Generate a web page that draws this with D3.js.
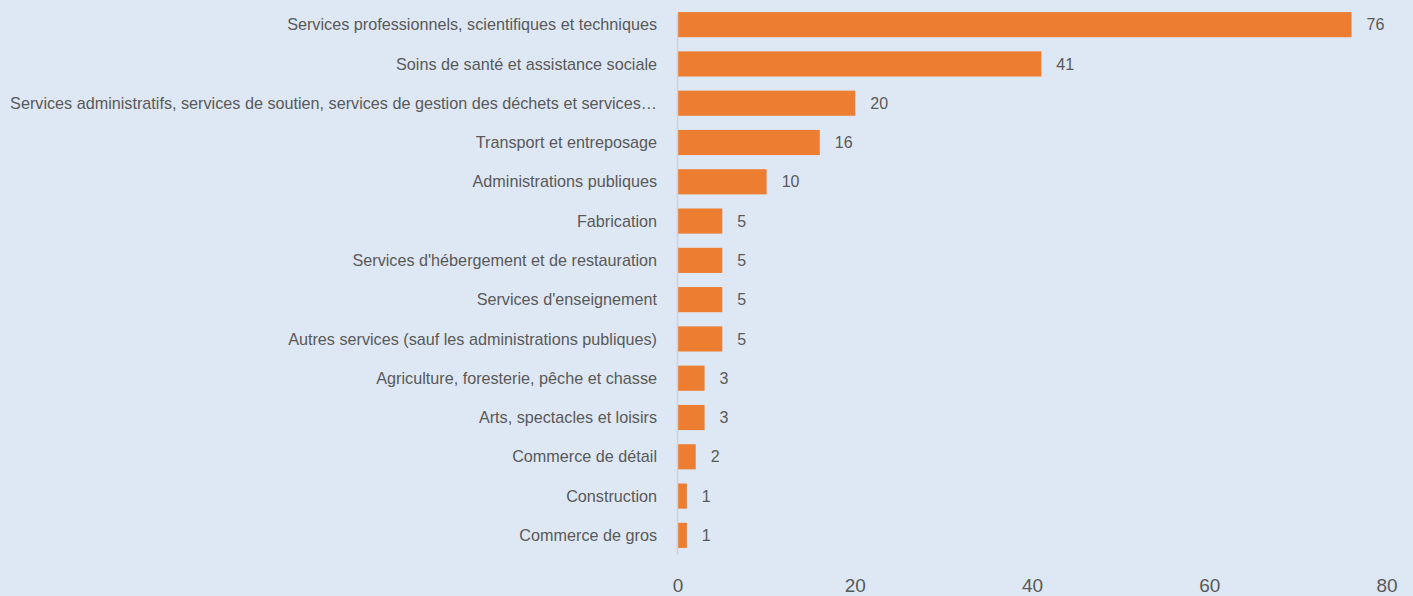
<!DOCTYPE html>
<html>
<head>
<meta charset="utf-8">
<script src="https://cdn.jsdelivr.net/npm/d3@7"></script>
<style>
  body { margin: 0; background: #dee8f4; }
  svg text { font-family: "Liberation Sans", Arial, sans-serif; fill: #595959; }
</style>
</head>
<body>
<script>
// categories and counts, top to bottom
var categories = [
    "Services professionnels, scientifiques et techniques",
    "Soins de santé et assistance sociale",
    "Services administratifs, services de soutien, services de gestion des déchets et services…",
    "Transport et entreposage",
    "Administrations publiques",
    "Fabrication",
    "Services d'hébergement et de restauration",
    "Services d'enseignement",
    "Autres services (sauf les administrations publiques)",
    "Agriculture, foresterie, pêche et chasse",
    "Arts, spectacles et loisirs",
    "Commerce de détail",
    "Construction",
    "Commerce de gros"
];
var counts = [76, 41, 20, 16, 10, 5, 5, 5, 5, 3, 3, 2, 1, 1];
var ticks = [0, 20, 40, 60, 80];

function draw () {
    var width = 1413, height = 596;
    var mLeft = 678, mRight = 1387, mTop = 5, mBottom = 555;

    var svg = d3.select("body").append("svg")
        .attr("width", width)
        .attr("height", height);

    svg.append("rect").attr("width", width).attr("height", height).attr("fill", "#dee8f4");

    var x = d3.scaleLinear().domain([0, 80]).range([mLeft, mRight]);
    var y = d3.scaleBand().domain(categories).range([mTop, mBottom]).paddingInner(0.36).paddingOuter(0.18);

    // bars
    svg.selectAll(".bar")
        .data(categories)
        .enter()
        .append("rect")
        .attr("class", "bar")
        .attr("x", x(0))
        .attr("y", function(d){ return y(d); })
        .attr("width", function(d, i){ return x(counts[i]) - x(0); })
        .attr("height", y.bandwidth())
        .attr("fill", "#ed7d31");

    // value labels
    svg.selectAll(".val")
        .data(categories)
        .enter()
        .append("text")
        .attr("class", "val")
        .attr("x", function(d, i){ return x(counts[i]) + 15; })
        .attr("y", function(d){ return y(d) + y.bandwidth() / 2; })
        .attr("dy", "0.35em")
        .attr("font-size", 16)
        .text(function(d, i){ return counts[i]; });

    // category labels
    svg.selectAll(".cat")
        .data(categories)
        .enter()
        .append("text")
        .attr("class", "cat")
        .attr("x", mLeft - 21)
        .attr("y", function(d){ return y(d) + y.bandwidth() / 2; })
        .attr("dy", "0.35em")
        .attr("text-anchor", "end")
        .attr("font-size", 16.2)
        .text(function(d){ return d; });

    // axis line
    svg.append("line")
        .attr("x1", mLeft - 0.5).attr("x2", mLeft - 0.5)
        .attr("y1", mTop + 8).attr("y2", mBottom)
        .attr("stroke", "#d0d3d6").attr("stroke-width", 1.5);

    // x tick labels
    svg.selectAll(".tick")
        .data(ticks)
        .enter()
        .append("text")
        .attr("class", "tick")
        .attr("x", function(d){ return x(d); })
        .attr("y", 585)
        .attr("dy", "0.35em")
        .attr("text-anchor", "middle")
        .attr("font-size", 19)
        .text(function(d){ return d; });
}

window.onload = draw;
</script>
</body>
</html>
